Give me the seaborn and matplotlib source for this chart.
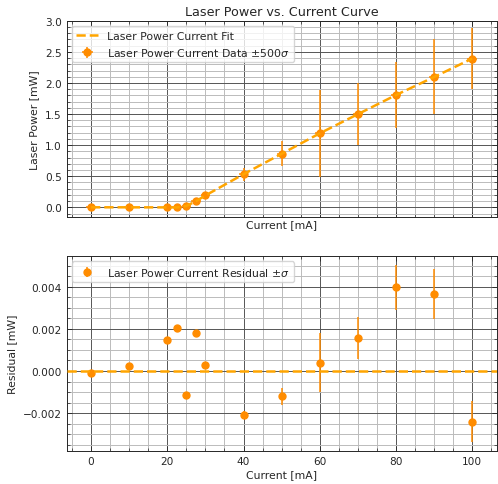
import numpy as np
import matplotlib
matplotlib.use("Agg")
import matplotlib.pyplot as plt
import seaborn as sns
from matplotlib.ticker import AutoMinorLocator

# datos
current = [0, 10, 20, 22.5, 25, 27.5, 30, 40, 50, 60, 70, 80, 90, 100]
power = [0.0, 0.0, 0.0, 0.0, 0.02, 0.10, 0.19, 0.53, 0.86, 1.19, 1.50, 1.81, 2.10, 2.39]
residual = [-0.0001, 0.00025, 0.00147, 0.00205, -0.00113, 0.00182, 0.0003,
            -0.0021, -0.0012, 0.0004, 0.00157, 0.00397, 0.00366, -0.0024]
sigma = [0.00002, 0.00002, 0.00002, 0.00002, 0.00002, 0.00002, 0.00002,
         0.0002, 0.0004, 0.0014, 0.001, 0.00107, 0.0012, 0.00098]
current_err = 1.25
escala = 500

fit = np.array(power) - np.array(residual)

sns.set_style("ticks")
plt.rcParams["font.family"] = ["DejaVu Sans"]

c_pts = "darkorange"
c_fit = "orange"

fig = plt.figure(figsize=(4.98, 4.85), dpi=100)
ax1 = fig.add_axes([0.134, 0.550, 0.863, 0.405])
ax2 = fig.add_axes([0.134, 0.068, 0.863, 0.402], sharex=ax1)

# --- curva
sns.lineplot(x=current, y=fit, ax=ax1, color=c_fit, lw=1.8, ls="--",
             label="Laser Power Current Fit", zorder=3)
ax1.errorbar(current, power, yerr=np.array(sigma) * escala, xerr=current_err,
             fmt="o", color=c_pts, ms=5, elinewidth=1.1, capsize=0,
             label=r"Laser Power Current Data $\pm500\sigma$", zorder=2)
ax1.set_title("Laser Power vs. Current Curve", fontsize=9.2, pad=4)
ax1.set_ylabel("Laser Power [mW]")
ax1.set_xlabel("Current [mA]", labelpad=-2)
ax1.set_ylim(-0.16, 3.0)
ax1.tick_params(labelbottom=False)
ax1.legend(loc="upper left", fontsize=7.8)

# --- residuos
ax2.axhline(0, color=c_fit, lw=1.8, ls="--", zorder=3)
ax2.errorbar(current, residual, yerr=sigma, fmt="o", color=c_pts, ms=5,
             elinewidth=1.1, capsize=0,
             label=r"Laser Power Current Residual $\pm\sigma$", zorder=2)
ax2.set_ylabel("Residual [mW]")
ax2.set_xlabel("Current [mA]", labelpad=2)
ax2.legend(loc="upper left", fontsize=7.8)

for ax in (ax1, ax2):
    ax.xaxis.set_minor_locator(AutoMinorLocator())
    ax.yaxis.set_minor_locator(AutoMinorLocator())
    ax.tick_params(which="both", direction="in", top=True, right=True, labelsize=7.6)
    ax.tick_params(which="major", length=3.5, width=0.6)
    ax.tick_params(which="minor", length=2, width=0.5)
    ax.grid(which="major", color="#555555", lw=0.7)
    ax.grid(which="minor", color="#bbbbbb", lw=0.7)
    ax.set_axisbelow(True)
    ax.xaxis.label.set_size(7.8)
    ax.yaxis.label.set_size(7.8)
    for s in ax.spines.values():
        s.set_linewidth(0.7)

fig.savefig("out.png", dpi=100)
